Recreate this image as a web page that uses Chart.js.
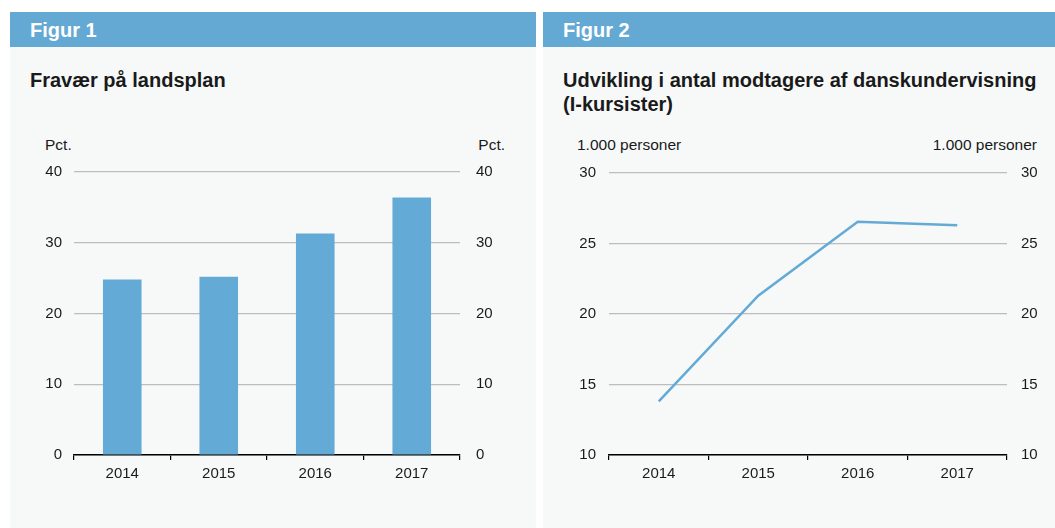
<!DOCTYPE html>
<html>
<head>
<meta charset="utf-8">
<script src="https://cdn.jsdelivr.net/npm/chart.js@4.4.1/dist/chart.umd.min.js"></script>
<style>
    body { margin: 0; background: #fff; font-family: 'Liberation Sans', Arial, sans-serif; color: #1a1a1a; }
    #page { position: relative; width: 1055px; height: 528px; overflow: hidden; }
    .panel { position: absolute; top: 12px; height: 516px; background: #f7f9f9; }
    .head { height: 35px; background: #64a9d4; color: #fff; font-weight: bold; font-size: 20px; line-height: 36px; padding-left: 20px; }
    .titel { position: absolute; left: 20px; top: 56px; font-weight: bold; font-size: 20px; line-height: 24px; }
    .enhed { position: absolute; top: 136px; font-size: 15.5px; }
    canvas { position: absolute; }
</style>
</head>
<body>
<div id="page">
    <div class="panel" style="left:10px;width:526px;">
        <div class="head">Figur 1</div>
        <div class="titel">Fravær på landsplan</div>
    </div>
    <div class="panel" style="left:543px;width:512px;">
        <div class="head">Figur 2</div>
        <div class="titel">Udvikling i antal modtagere af danskundervisning<br>(I-kursister)</div>
    </div>
    <div class="enhed" style="left:45px;">Pct.</div>
    <div class="enhed" style="right:550px;">Pct.</div>
    <div class="enhed" style="left:577px;">1.000 personer</div>
    <div class="enhed" style="right:18px;">1.000 personer</div>
    <canvas id="fig1" width="526" height="353" style="left:10px;top:147px;"></canvas>
    <canvas id="fig2" width="512" height="350" style="left:543px;top:150px;"></canvas>
</div>
<script>
    // data
    var aar = ['2014', '2015', '2016', '2017'];
    var fravaer = [24.8, 25.2, 31.3, 36.4];          // pct.
    var kursister = [13.8, 21.3, 26.55, 26.3];       // 1.000 personer

    var blaa = '#64aad6';
    var tekst = '#1a1a1a';
    Chart.defaults.font.family = "'Liberation Sans', Arial, sans-serif";
    Chart.defaults.font.size = 15;
    Chart.defaults.color = tekst;

    // akse med fast bredde/hoejde, saa plotomraadet ligger hvor det skal
    function yAkse(pos, min, max, step, bredde, pad, grid) {
        return {
            position: pos,
            min: min, max: max,
            afterFit: function (scale) { scale.width = bredde; },
            ticks: { stepSize: step, padding: pad, color: tekst },
            grid: { display: grid, color: '#bdbdbd', lineWidth: 1.2, drawTicks: false },
            border: { display: false }
        };
    }

    function xAkse() {
        return {
            offset: true,
            afterFit: function (scale) { scale.height = 45; },
            ticks: { padding: 5, color: tekst },
            grid: { offset: true, drawOnChartArea: false, color: '#000', tickLength: 5, lineWidth: 1.2 },
            border: { display: true, color: '#000', width: 1.5 }
        };
    }

    new Chart(document.getElementById('fig1'), {
        type: 'bar',
        data: {
            labels: aar,
            datasets: [{
                data: fravaer,
                backgroundColor: blaa,
                borderWidth: 0,
                barPercentage: 0.4,
                categoryPercentage: 1
            }]
        },
        options: {
            responsive: false,
            animation: false,
            layout: { padding: { top: 21, bottom: 0, left: 0, right: 0 } },
            plugins: { legend: { display: false }, tooltip: { enabled: false } },
            scales: {
                x: xAkse(),
                y: yAkse('left', 0, 40, 10, 64, 12, true),
                y2: yAkse('right', 0, 40, 10, 76, 16, false)
            }
        }
    });

    new Chart(document.getElementById('fig2'), {
        type: 'line',
        data: {
            labels: aar,
            datasets: [{
                data: kursister,
                borderColor: blaa,
                borderWidth: 2.5,
                pointRadius: 0,
                tension: 0,
                fill: false
            }]
        },
        options: {
            responsive: false,
            animation: false,
            layout: { padding: { top: 21, bottom: 0, left: 0, right: 0 } },
            plugins: { legend: { display: false }, tooltip: { enabled: false } },
            scales: {
                x: xAkse(),
                y: yAkse('left', 10, 30, 5, 66, 13, true),
                y2: yAkse('right', 10, 30, 5, 48, 14, false)
            }
        }
    });
</script>
</body>
</html>
